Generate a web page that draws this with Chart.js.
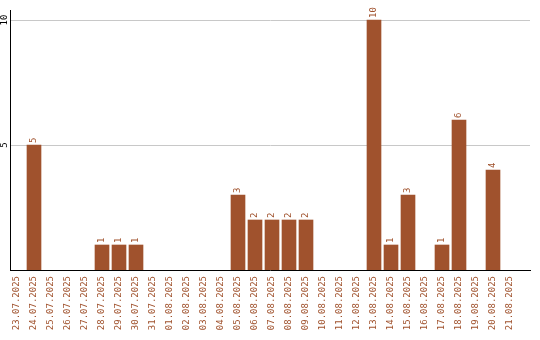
<!DOCTYPE html>
<html>
<head>
<meta charset="utf-8">
<script src="https://cdn.jsdelivr.net/npm/chart.js@4/dist/chart.umd.min.js"></script>
<style>body{margin:0;background:#fff}</style>
</head>
<body>
<canvas id="chart" width="540" height="340"></canvas>
<script>
// one entry per day
const dates = [
  "23.07.2025", "24.07.2025", "25.07.2025", "26.07.2025", "27.07.2025",
  "28.07.2025", "29.07.2025", "30.07.2025", "31.07.2025", "01.08.2025",
  "02.08.2025", "03.08.2025", "04.08.2025", "05.08.2025", "06.08.2025",
  "07.08.2025", "08.08.2025", "09.08.2025", "10.08.2025", "11.08.2025",
  "12.08.2025", "13.08.2025", "14.08.2025", "15.08.2025", "16.08.2025",
  "17.08.2025", "18.08.2025", "19.08.2025", "20.08.2025", "21.08.2025"
];
const counts = [0, 5, 0, 0, 0, 1, 1, 1, 0, 0, 0, 0, 0, 3, 2, 2, 2, 2, 0, 0, 0, 10, 1, 3, 0, 1, 6, 0, 4, 0];
const yTicks = [5, 10];

const brown = "#a0522d";
const font = { family: "DejaVu Sans Mono", size: 9 };

// numbers above each bar and the y tick numbers, both turned on their side
const sideText = {
  id: "sideText",
  afterDatasetsDraw(chart) {
    const ctx = chart.ctx;
    const meta = chart.getDatasetMeta(0);
    ctx.save();
    ctx.font = "9px 'DejaVu Sans Mono'";
    ctx.fillStyle = brown;
    ctx.textAlign = "left";
    ctx.textBaseline = "middle";
    meta.data.forEach((bar, i) => {
      if (!counts[i]) return;
      ctx.save();
      ctx.translate(bar.x, bar.y - 2);
      ctx.rotate(-Math.PI / 2);
      ctx.fillText(String(counts[i]), 0, 0);
      ctx.restore();
    });
    // y ticks
    const y = chart.scales.y;
    ctx.fillStyle = "#000";
    ctx.textAlign = "center";
    yTicks.forEach(v => {
      ctx.save();
      ctx.translate(y.left + 5, y.getPixelForValue(v));
      ctx.rotate(-Math.PI / 2);
      ctx.fillText(String(v), 0, 0);
      ctx.restore();
    });
    ctx.restore();
  }
};

new Chart(document.getElementById("chart").getContext("2d"), {
  type: "bar",
  data: {
    datasets: [{
      data: counts.map((v, i) => ({ x: i, y: v || null })),
      backgroundColor: brown,
      borderWidth: 0,
      barThickness: 14
    }]
  },
  options: {
    responsive: false,
    animation: false,
    layout: { padding: { top: 10, right: 10, left: 0, bottom: 0 } },
    plugins: { legend: { display: false }, tooltip: { enabled: false } },
    scales: {
      x: {
        type: "linear",
        offset: false,
        min: -7 / 17,
        max: 513 / 17,
        afterBuildTicks: s => { s.ticks = dates.map((d, i) => ({ value: i })); },
        ticks: {
          autoSkip: false,
          minRotation: 90,
          maxRotation: 90,
          color: brown,
          font: font,
          padding: 6,
          callback: v => dates[v]
        },
        grid: { display: false, drawTicks: false, offset: false },
        border: { color: "#000", width: 1 },
        afterFit: s => { s.height = 70; }
      },
      y: {
        min: 0,
        max: 10.4,
        afterBuildTicks: s => { s.ticks = yTicks.map(v => ({ value: v })); },
        ticks: { display: false },
        grid: { color: "#c8c8c8", drawTicks: false },
        border: { color: "#000", width: 1 },
        afterFit: s => { s.width = 10; }
      }
    }
  },
  plugins: [sideText]
});
</script>
</body>
</html>
